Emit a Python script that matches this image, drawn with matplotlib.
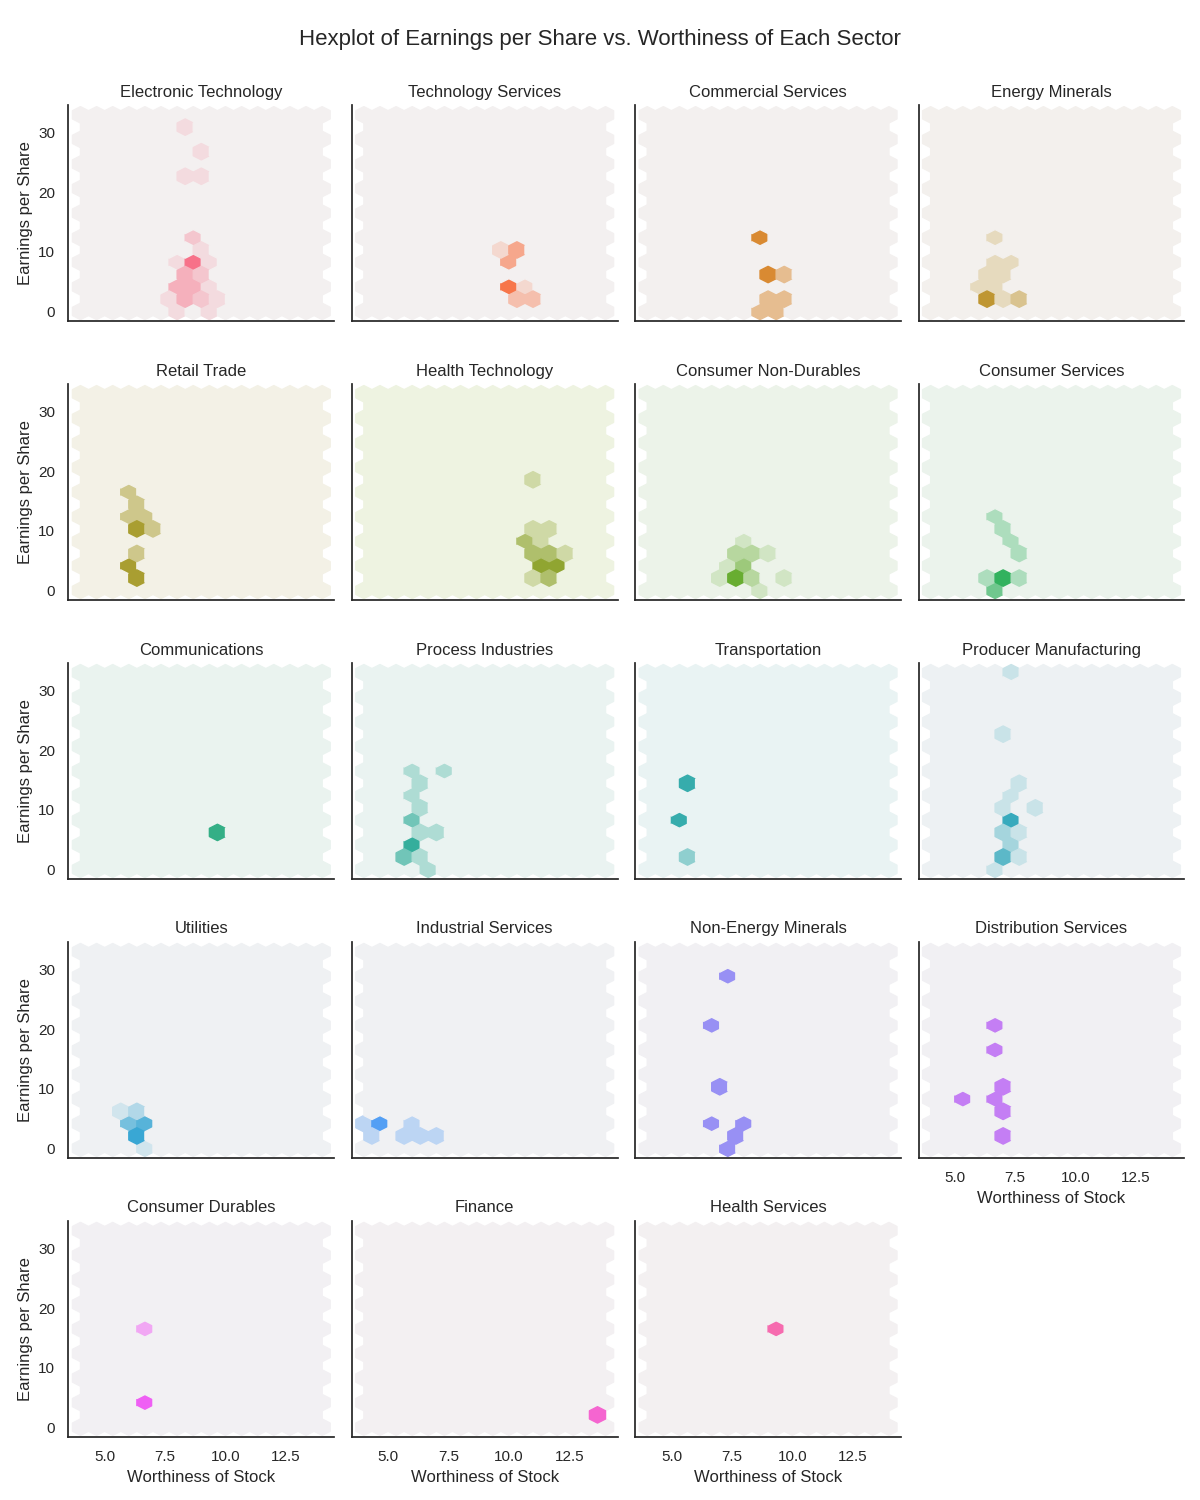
import numpy as np
import pandas as pd
import matplotlib
matplotlib.use("Agg")
import matplotlib.pyplot as plt
import seaborn as sns

# ---------------- data ----------------
sector_order = [
    "Electronic Technology", "Technology Services", "Commercial Services", "Energy Minerals",
    "Retail Trade", "Health Technology", "Consumer Non-Durables", "Consumer Services",
    "Communications", "Process Industries", "Transportation", "Producer Manufacturing",
    "Utilities", "Industrial Services", "Non-Energy Minerals", "Distribution Services",
    "Consumer Durables", "Finance", "Health Services",
]

# long-format parallel lists: sector, worthiness, EPS, number of stocks at that spot
sector = (
    ["Electronic Technology"] * 20
    + ["Technology Services"] * 7
    + ["Commercial Services"] * 7
    + ["Energy Minerals"] * 10
    + ["Retail Trade"] * 9
    + ["Health Technology"] * 12
    + ["Consumer Non-Durables"] * 11
    + ["Consumer Services"] * 8
    + ["Communications"] * 1
    + ["Process Industries"] * 12
    + ["Transportation"] * 3
    + ["Producer Manufacturing"] * 13
    + ["Utilities"] * 6
    + ["Industrial Services"] * 7
    + ["Non-Energy Minerals"] * 7
    + ["Distribution Services"] * 7
    + ["Consumer Durables"] * 2
    + ["Finance"] * 1
    + ["Health Services"] * 1
)

worth = [
    # Electronic Technology
    8.33, 9.0, 8.33, 9.0, 8.67, 9.0, 8.0, 8.67, 9.33, 8.33, 9.0, 8.0, 8.67, 9.33, 7.67, 8.33, 9.0, 9.67, 8.0, 9.33,
    # Technology Services
    9.67, 10.33, 10.0, 10.0, 10.67, 10.33, 11.0,
    # Commercial Services
    8.67, 9.0, 9.67, 9.0, 9.67, 8.67, 9.33,
    # Energy Minerals
    6.67, 6.67, 7.33, 6.33, 7.0, 6.0, 6.67, 6.33, 7.0, 7.67,
    # Retail Trade
    6.0, 6.33, 6.0, 6.67, 6.33, 7.0, 6.33, 6.0, 6.33,
    # Health Technology
    11.0, 11.0, 11.67, 10.67, 11.33, 11.0, 11.67, 12.33, 11.33, 12.0, 11.0, 11.67,
    # Consumer Non-Durables
    8.0, 7.67, 8.33, 9.0, 7.33, 8.0, 7.0, 7.67, 8.33, 9.67, 8.67,
    # Consumer Services
    6.67, 7.0, 7.33, 7.67, 6.33, 7.0, 7.67, 6.67,
    # Communications
    9.67,
    # Process Industries
    6.0, 7.33, 6.33, 6.0, 6.33, 6.0, 6.33, 7.0, 6.0, 5.67, 6.33, 6.67,
    # Transportation
    5.67, 5.33, 5.67,
    # Producer Manufacturing
    7.33, 7.0, 7.67, 7.33, 7.0, 8.33, 7.33, 7.0, 7.67, 7.33, 7.0, 7.67, 6.67,
    # Utilities
    5.67, 6.33, 6.0, 6.67, 6.33, 6.67,
    # Industrial Services
    4.0, 4.67, 4.33, 6.0, 5.67, 6.33, 7.0,
    # Non-Energy Minerals
    7.33, 6.67, 7.0, 6.67, 8.0, 7.67, 7.33,
    # Distribution Services
    6.67, 6.67, 7.0, 5.33, 6.67, 7.0, 7.0,
    # Consumer Durables
    6.67, 6.67,
    # Finance
    13.67,
    # Health Services
    9.33,
]

eps = [
    # Electronic Technology
    30.94, 26.81, 22.69, 22.69, 12.38, 10.31, 8.25, 8.25, 8.25, 6.19, 6.19, 4.13, 4.13, 4.13, 2.06, 2.06, 2.06, 2.06, 0.0, 0.0,
    # Technology Services
    10.31, 10.31, 8.25, 4.13, 4.13, 2.06, 2.06,
    # Commercial Services
    12.38, 6.19, 6.19, 2.06, 2.06, 0.0, 0.0,
    # Energy Minerals
    12.38, 8.25, 8.25, 6.19, 6.19, 4.13, 4.13, 2.06, 2.06, 2.06,
    # Retail Trade
    16.5, 14.44, 12.38, 12.38, 10.31, 10.31, 6.19, 4.13, 2.06,
    # Health Technology
    18.56, 10.31, 10.31, 8.25, 8.25, 6.19, 6.19, 6.19, 4.13, 4.13, 2.06, 2.06,
    # Consumer Non-Durables
    8.25, 6.19, 6.19, 6.19, 4.13, 4.13, 2.06, 2.06, 2.06, 2.06, 0.0,
    # Consumer Services
    12.38, 10.31, 8.25, 6.19, 2.06, 2.06, 2.06, 0.0,
    # Communications
    6.19,
    # Process Industries
    16.5, 16.5, 14.44, 12.38, 10.31, 8.25, 6.19, 6.19, 4.13, 2.06, 2.06, 0.0,
    # Transportation
    14.44, 8.25, 2.06,
    # Producer Manufacturing
    33.0, 22.69, 14.44, 12.38, 10.31, 10.31, 8.25, 6.19, 6.19, 4.13, 2.06, 2.06, 0.0,
    # Utilities
    6.19, 6.19, 4.13, 4.13, 2.06, 0.0,
    # Industrial Services
    4.13, 4.13, 2.06, 4.13, 2.06, 2.06, 2.06,
    # Non-Energy Minerals
    28.88, 20.63, 10.31, 4.13, 4.13, 2.06, 0.0,
    # Distribution Services
    20.63, 16.5, 10.31, 8.25, 8.25, 6.19, 2.06,
    # Consumer Durables
    16.5, 4.13,
    # Finance
    2.06,
    # Health Services
    16.5,
]

n_stocks = [
    # Electronic Technology
    1, 1, 1, 1, 2, 1, 1, 6, 1, 3, 2, 3, 3, 1, 1, 3, 2, 1, 1, 1,
    # Technology Services
    1, 3, 3, 5, 1, 2, 2,
    # Commercial Services
    2, 2, 1, 1, 1, 1, 1,
    # Energy Minerals
    1, 1, 1, 1, 1, 1, 1, 4, 1, 2,
    # Retail Trade
    1, 1, 1, 1, 2, 1, 1, 2, 2,
    # Health Technology
    1, 1, 1, 2, 1, 2, 2, 1, 3, 3, 1, 2,
    # Consumer Non-Durables
    1, 2, 2, 1, 1, 3, 1, 5, 2, 1, 1,
    # Consumer Services
    1, 1, 1, 1, 1, 3, 1, 2,
    # Communications
    1,
    # Process Industries
    1, 1, 1, 1, 1, 2, 1, 1, 3, 2, 1, 1,
    # Transportation
    2, 2, 1,
    # Producer Manufacturing
    1, 1, 1, 1, 1, 1, 5, 2, 1, 2, 4, 1, 1,
    # Utilities
    1, 2, 4, 5, 6, 1,
    # Industrial Services
    1, 3, 1, 1, 1, 1, 1,
    # Non-Energy Minerals
    1, 1, 1, 1, 1, 1, 1,
    # Distribution Services
    1, 1, 1, 1, 1, 1, 1,
    # Consumer Durables
    1, 2,
    # Finance
    1,
    # Health Services
    1,
]

hex_extent = [4, 14, 0, 33]

title_text = "Hexplot of Earnings per Share vs. Worthiness of Each Sector"
x_label = "Worthiness of Stock"
y_label = "Earnings per Share"

# ---------------- build the frame ----------------
reps = np.array(n_stocks)
df = pd.DataFrame({
    "Sector": np.repeat(np.array(sector), reps),
    "Worthiness": np.repeat(np.array(worth), reps),
    "EPS": np.repeat(np.array(eps), reps),
})

sns.set_theme(style="white")
plt.rcParams["font.family"] = ["Liberation Sans", "DejaVu Sans"]


def hexbin(x, y, color, **kwargs):
    cmap = sns.light_palette(color, as_cmap=True)
    plt.hexbin(x, y, gridsize=15, cmap=cmap, extent=hex_extent, **kwargs)


g = sns.FacetGrid(df, col="Sector", hue="Sector", col_wrap=4, height=3, aspect=1,
                  col_order=sector_order, hue_order=sector_order)
g.map(hexbin, "Worthiness", "EPS")
g.set_titles("{col_name}")
g.set_axis_labels(x_label, y_label)

g.fig.set_size_inches(12, 15)
g.fig.subplots_adjust(left=0.057, right=0.987, top=0.930, bottom=0.042,
                      wspace=0.066, hspace=0.29)
g.fig.suptitle(title_text, fontsize=16, y=0.981)

g.fig.savefig("out.png", dpi=100)
